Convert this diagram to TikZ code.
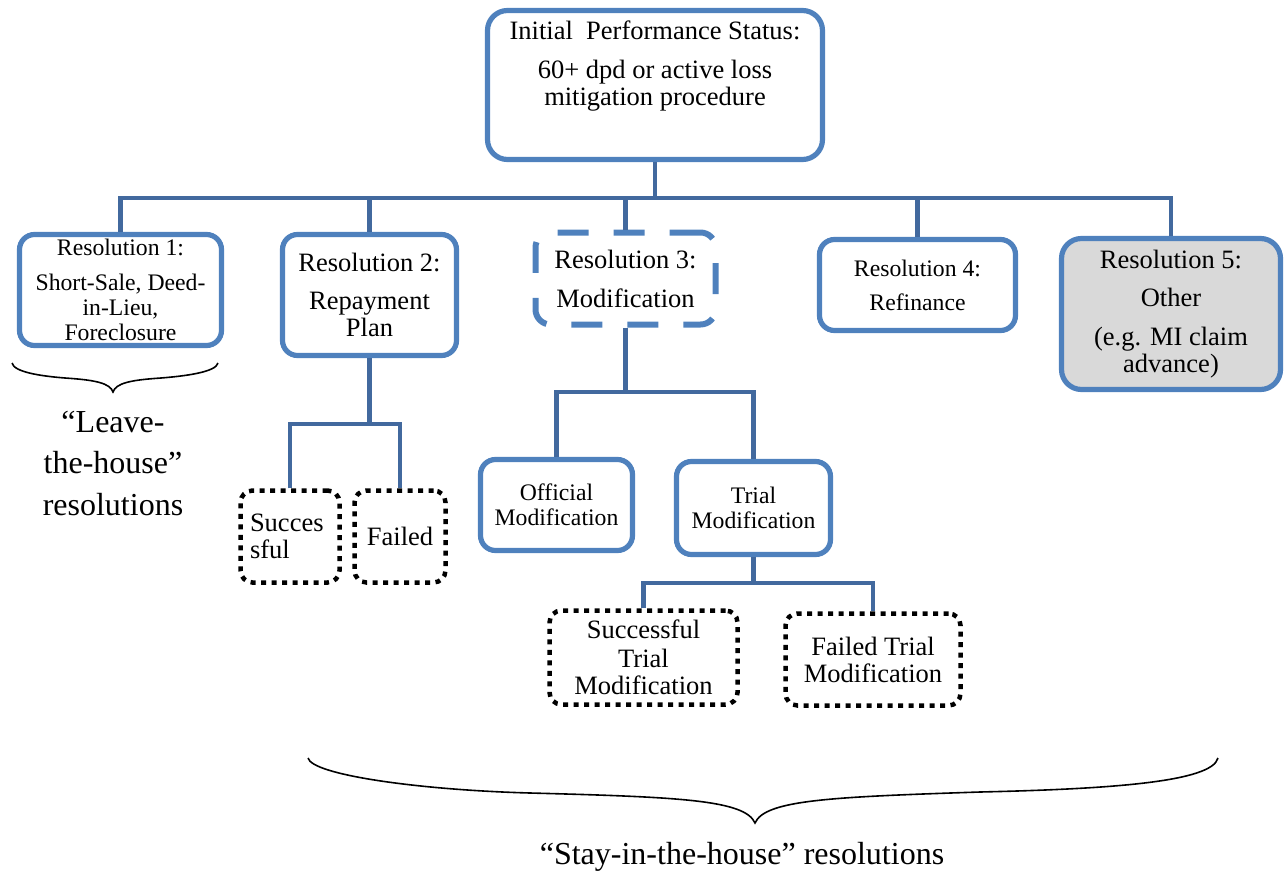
\documentclass[tikz,border=0pt]{standalone}
\usepackage{fontspec}
\setmainfont{Liberation Serif}
\definecolor{boxblue}{RGB}{79,129,189}
\definecolor{linkblue}{RGB}{66,105,158}
\definecolor{fillgray}{RGB}{217,217,217}
\begin{document}
\begin{tikzpicture}[x=1pt,y=-1pt,
  box/.style={draw=boxblue, line width=5.2pt, rounded corners=15pt, inner sep=0pt, align=center},
  dashbox/.style={draw=boxblue, line width=6pt, rounded corners=15pt, dash pattern=on 31pt off 25pt, inner sep=0pt, align=center},
  dotbox/.style={draw=black, line width=4.5pt, dash pattern=on 5pt off 5.5pt, rounded corners=12pt, inner sep=0pt, align=center},
  conn/.style={draw=linkblue, line width=4.8pt},
  bigf/.style={font=\fontsize{26.5}{27}\selectfont},
  smallf/.style={font=\fontsize{23.7}{25}\selectfont},
  bracef/.style={font=\fontsize{32}{41.5}\selectfont},
  bracestroke/.style={draw=black, line width=1.6pt}
]
\useasboundingbox (0,0) rectangle (1285,875);

% top box
\node[box, rounded corners=20pt, minimum width=335pt, minimum height=149pt] (top) at (655,85) {};
\node[bigf, align=center, inner sep=0pt] (toptxt) at (655,66) {Initial\ \ Performance Status:\\[12pt]60+ dpd or active loss\\mitigation procedure};

% level 1
\node[box, smallf, minimum width=202pt, minimum height=111pt] (r1) at (120.5,290) {Resolution 1:\\[10pt]Short-Sale, Deed-\\in-Lieu,\\Foreclosure};
\node[box, bigf, minimum width=174pt, minimum height=121pt] (r2) at (369.5,295) {Resolution 2:\\[11pt]Repayment\\Plan};
\node[dashbox, bigf, minimum width=180pt, minimum height=92pt] (r3) at (625.5,278.5) {Resolution 3:\\[12pt]Modification};
\node[box, smallf, minimum width=196pt, minimum height=91pt] (r4) at (917.5,285) {Resolution 4:\\[9pt]Refinance};
\node[box, bigf, fill=fillgray, rounded corners=20pt, minimum width=219pt, minimum height=151pt] (r5) at (1171,314) {Resolution 5:\\[11pt]Other\\[12pt](e.g. MI claim\\advance)};

% level 2
\node[dotbox, bigf, text width=80pt, align=left, minimum width=99pt, minimum height=92pt] (s1) at (290,536.5) {Succes\\sful};
\node[dotbox, bigf, minimum width=91pt, minimum height=92pt] (f1) at (400,536.5) {Failed};
\node[box, smallf, minimum width=152pt, minimum height=91pt] (off) at (556.5,505) {Official\\Modification};
\node[box, smallf, minimum width=154pt, minimum height=93pt] (tri) at (753.5,508) {Trial\\Modification};

% level 3
\node[dotbox, bigf, minimum width=188pt, minimum height=94pt] (st) at (643.5,657.5) {Successful\\[2pt]Trial\\Modification};
\node[dotbox, bigf, minimum width=175pt, minimum height=92pt] (ft) at (873,659.5) {Failed Trial\\Modification};

% connectors
\coordinate (bus) at (655,198);
\draw[conn] (top.south) -- (top.south |- bus);
\draw[conn] (r1.north) -- (r1.north |- bus) -- (r5.north |- bus) -- (r5.north);
\draw[conn] (r2.north) -- (r2.north |- bus);
\draw[conn] (r3.north) -- (r3.north |- bus);
\draw[conn] (r4.north) -- (r4.north |- bus);

\coordinate (j2) at (r2.south |- 0,424);
\draw[conn] (r2.south) -- (j2);
\draw[conn] (s1.north) -- (s1.north |- j2) -- (f1.north |- j2) -- (f1.north);

\coordinate (j3) at (r3.south |- 0,392);
\draw[conn] (r3.south) -- (j3);
\draw[conn] (off.north) -- (off.north |- j3) -- (tri.north |- j3) -- (tri.north);

\coordinate (j4) at (tri.south |- 0,583);
\draw[conn] (tri.south) -- (j4);
\draw[conn] (st.north) -- (st.north |- j4) -- (ft.north |- j4) -- (ft.north);

% braces
\draw[bracestroke] (12,363) .. controls (14,372) and (40,376) .. (65,378)
  .. controls (95,380) and (110,383) .. (113,392)
  .. controls (116,383) and (131,380) .. (161,378)
  .. controls (186,376) and (216,372) .. (218,363);
\node[bracef, align=center, inner sep=0pt] (leave) at (113,463) {“Leave-\\the-house”\\resolutions};

\draw[bracestroke] (308,758) .. controls (312,775) and (420,790) .. (530,793)
  .. controls (680,797) and (745,800) .. (755,823)
  .. controls (765,800) and (830,797) .. (980,792)
  .. controls (1110,789) and (1212,782) .. (1218,758);
\node[bracef, inner sep=0pt] (stay) at (742,857) {“Stay-in-the-house” resolutions};
\end{tikzpicture}
\end{document}
